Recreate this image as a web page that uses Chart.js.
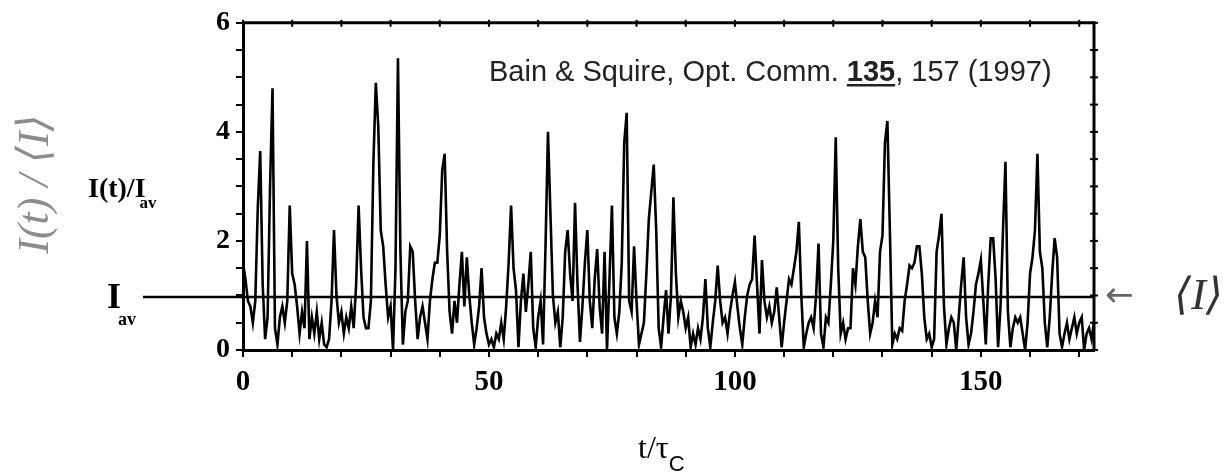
<!DOCTYPE html>
<html>
<head>
<meta charset="utf-8">
<script src="https://cdn.jsdelivr.net/npm/chart.js@4.4.1/dist/chart.umd.min.js"></script>
<style>
  html, body { margin: 0; padding: 0; background: #fff; }
  canvas { display: block; }
</style>
</head>
<body>
<canvas id="chart" width="1226" height="476"></canvas>
<script>
// intensity trace I(t)/I_av, one value every half coherence time
const SAMPLE_STEP = 0.5;
const intensity = [
  1.6, 1.3, 0.9, 0.8, 0.5, 0.9, 2.6, 3.65, 1.2, 0.2, 0.6, 3.0, 4.8, 0.4, 0.1, 0.6, 0.8, 0.5, 0.9, 2.65,
  1.4, 1.2, 0.8, 0.3, 0.7, 0.4, 2.0, 0.2, 0.6, 0.3, 0.7, 0.2, 0.5, 0.1, 0.05, 0.2, 0.9, 2.2, 1.0, 0.5,
  0.7, 0.3, 0.6, 0.4, 0.8, 0.4, 1.2, 2.65, 1.5, 0.6, 0.4, 0.4, 0.9, 3.4, 4.9, 4.1, 2.2, 1.9, 1.2, 0.6,
  0.8, 0.0, 1.5, 5.35, 1.8, 0.1, 0.7, 0.9, 1.9, 1.8, 0.9, 0.2, 0.6, 0.8, 0.5, 0.2, 0.9, 1.3, 1.6, 1.6,
  2.1, 3.3, 3.6, 1.8, 0.7, 0.3, 0.9, 0.5, 1.2, 1.8, 0.8, 1.7, 1.0, 0.5, 0.1, 0.4, 0.8, 1.5, 0.6, 0.3,
  0.1, 0.2, 0.05, 0.3, 0.2, 0.5, 0.2, 0.8, 1.6, 2.65, 1.5, 1.1, 0.05, 0.9, 1.4, 0.7, 1.2, 1.8, 0.4, 0.05,
  0.6, 0.9, 0.1, 1.9, 4.0, 2.5, 1.0, 0.5, 0.7, 0.05, 0.6, 1.8, 2.2, 1.4, 0.9, 2.7, 1.2, 0.15, 0.8, 1.6,
  2.2, 0.9, 0.4, 1.3, 1.85, 0.8, 0.3, 1.8, 0.0, 1.3, 2.65, 0.6, 0.3, 0.7, 1.6, 3.8, 4.35, 0.9, 0.7, 1.9,
  0.9, 0.1, 0.3, 0.5, 1.4, 2.4, 2.9, 3.4, 2.2, 0.4, 0.05, 0.6, 1.1, 0.3, 1.0, 2.8, 1.4, 0.6, 0.9, 0.7,
  0.4, 0.6, 0.05, 0.3, 0.1, 0.4, 0.2, 0.6, 1.3, 0.4, 0.05, 0.5, 0.9, 1.55, 0.9, 0.5, 0.6, 0.3, 0.7, 1.0,
  1.25, 0.8, 0.4, 0.1, 0.6, 1.0, 1.2, 1.3, 2.1, 1.2, 0.3, 1.65, 0.9, 0.6, 0.8, 0.5, 0.7, 1.15, 0.6, 0.05,
  0.5, 0.9, 1.3, 1.2, 1.5, 1.8, 2.35, 1.0, 0.05, 0.3, 0.5, 0.6, 0.4, 1.0, 1.95, 0.3, 0.05, 0.6, 0.5, 1.2,
  2.0, 3.9, 1.5, 0.3, 0.5, 0.2, 0.4, 0.4, 1.5, 1.2, 1.9, 2.4, 1.8, 1.7, 0.9, 0.3, 0.5, 0.9, 0.6, 1.8,
  2.1, 3.8, 4.2, 2.2, 0.1, 0.3, 0.2, 0.4, 0.35, 0.9, 1.2, 1.55, 1.5, 1.6, 1.9, 1.9, 1.4, 0.6, 0.2, 0.3,
  0.05, 0.2, 1.8, 2.1, 2.5, 0.8, 0.1, 0.4, 0.6, 0.5, 0.0, 0.6, 1.2, 1.7, 0.6, 0.1, 0.3, 0.7, 1.2, 1.4,
  1.65, 0.9, 0.1, 1.2, 2.05, 2.05, 1.3, 0.05, 0.8, 2.2, 3.45, 0.7, 0.05, 0.4, 0.6, 0.5, 0.6, 0.3, 0.0, 0.5,
  1.4, 1.7, 2.2, 3.6, 1.8, 1.5, 0.5, 0.05, 0.6, 1.4, 2.05, 1.7, 0.3, 0.05, 0.3, 0.5, 0.2, 0.4, 0.6, 0.3,
  0.5, 0.6, 0.0, 0.3, 0.4, 0.2, 0.5
];
const IAV = 0.97;                    // level of the I_av line
const X_LABELS = [0, 50, 100, 150];
const Y_LABELS = [0, 2, 4, 6];
const X_MAX = 173;

const SERIF = '"Liberation Serif", "DejaVu Serif", serif';
const SANS = '"Liberation Sans", Arial, sans-serif';

// frame, I_av line and all the loose labels of the figure
const decorations = {
  id: 'decorations',
  afterDraw(chart) {
    const ctx = chart.ctx;
    const a = chart.chartArea;
    const x = chart.scales.x;
    const y = chart.scales.y;
    ctx.save();

    // top and right sides of the box, with small inner ticks
    ctx.strokeStyle = '#000';
    ctx.lineWidth = 3;
    ctx.beginPath();
    ctx.moveTo(a.left, a.top);
    ctx.lineTo(a.right, a.top);
    ctx.lineTo(a.right, a.bottom);
    ctx.stroke();
    ctx.lineWidth = 2;
    x.ticks.forEach(t => {
      const px = x.getPixelForValue(t.value);
      ctx.beginPath();
      ctx.moveTo(px, a.top - 3);
      ctx.lineTo(px, a.top + 4);
      ctx.stroke();
    });
    y.ticks.forEach(t => {
      const py = y.getPixelForValue(t.value);
      ctx.beginPath();
      ctx.moveTo(a.right - 4, py);
      ctx.lineTo(a.right + 4, py);
      ctx.stroke();
    });

    // I_av line, sticking out left of the axis towards its label
    const yAv = y.getPixelForValue(IAV);
    ctx.lineWidth = 2.5;
    ctx.beginPath();
    ctx.moveTo(143, yAv);
    ctx.lineTo(a.right, yAv);
    ctx.stroke();

    // citation
    ctx.fillStyle = '#222';
    ctx.textBaseline = 'alphabetic';
    ctx.textAlign = 'left';
    let cx = 489;
    const cy = 81;
    ctx.font = '29px ' + SANS;
    const p1 = 'Bain & Squire, Opt. Comm. ';
    ctx.fillText(p1, cx, cy);
    cx += ctx.measureText(p1).width;
    ctx.font = 'bold 29px ' + SANS;
    const vol = '135';
    const wVol = ctx.measureText(vol).width;
    ctx.fillText(vol, cx, cy);
    ctx.fillRect(cx, cy + 3, wVol, 2.5);
    cx += wVol;
    ctx.font = '29px ' + SANS;
    ctx.fillText(', 157 (1997)', cx, cy);

    // I(t)/I_av
    ctx.fillStyle = '#000';
    ctx.font = 'bold 28px ' + SERIF;
    const lab = 'I(t)/I';
    ctx.fillText(lab, 88, 197);
    const wLab = ctx.measureText(lab).width;
    ctx.font = 'bold 17px ' + SERIF;
    ctx.fillText('av', 88 + wLab - 6, 208);

    // I_av next to the line
    ctx.font = 'bold 36px ' + SERIF;
    ctx.fillText('I', 107, 308);
    ctx.font = 'bold 18px ' + SERIF;
    ctx.fillText('av', 118, 325);

    // x axis title t/tau_C
    ctx.font = '32px ' + SERIF;
    const tt = 't/\u03c4';
    ctx.fillText(tt, 638, 458);
    const wTt = ctx.measureText(tt).width;
    ctx.font = '22px ' + SANS;
    ctx.fillText('C', 638 + wTt, 471);

    // grey rotated label
    ctx.save();
    ctx.translate(36, 184);
    ctx.rotate(-Math.PI / 2);
    ctx.textAlign = 'center';
    ctx.textBaseline = 'middle';
    ctx.fillStyle = '#8c8c8c';
    ctx.font = 'italic 44px ' + SERIF;
    ctx.fillText('I(t) / \u27e8I\u27e9', 0, 0);
    ctx.restore();

    // arrow and <I> on the right
    ctx.textBaseline = 'middle';
    ctx.fillStyle = '#666';
    ctx.font = '34px "DejaVu Sans", sans-serif';
    ctx.fillText('\u2190', 1105, yAv);
    ctx.fillStyle = '#333';
    ctx.font = 'italic 44px ' + SERIF;
    ctx.fillText('\u27e8I\u27e9', 1174, yAv);

    ctx.restore();
  }
};

const points = intensity.map((v, i) => ({ x: i * SAMPLE_STEP, y: v }));

new Chart(document.getElementById('chart').getContext('2d'), {
  type: 'line',
  data: {
    datasets: [{
      data: points,
      borderColor: '#000',
      borderWidth: 2.6,
      pointRadius: 0,
      tension: 0,
      fill: false
    }]
  },
  options: {
    responsive: false,
    animation: false,
    devicePixelRatio: 1,
    layout: { padding: { top: 16, right: 132, bottom: 0, left: 0 } },
    plugins: {
      legend: { display: false },
      tooltip: { enabled: false }
    },
    scales: {
      x: {
        type: 'linear',
        min: 0,
        max: X_MAX,
        afterFit: s => { s.height = 126; },
        ticks: {
          stepSize: 10,
          includeBounds: false,
          autoSkip: false,
          maxRotation: 0,
          padding: 8,
          color: '#000',
          font: { family: SERIF, size: 29, weight: 'bold' },
          callback: v => (X_LABELS.includes(v) ? String(v) : '')
        },
        grid: { drawOnChartArea: false, tickLength: 7, color: '#000', lineWidth: 2 },
        border: { display: true, color: '#000', width: 3 }
      },
      y: {
        min: 0,
        max: 6,
        afterFit: s => { s.width = 243; },
        ticks: {
          stepSize: 0.5,
          autoSkip: false,
          padding: 6,
          color: '#000',
          font: { family: SERIF, size: 28, weight: 'bold' },
          callback: v => (Y_LABELS.includes(v) ? String(v) : '')
        },
        grid: { drawOnChartArea: false, tickLength: 7, color: '#000', lineWidth: 2 },
        border: { display: true, color: '#000', width: 3 }
      }
    }
  },
  plugins: [decorations]
});
</script>
</body>
</html>
